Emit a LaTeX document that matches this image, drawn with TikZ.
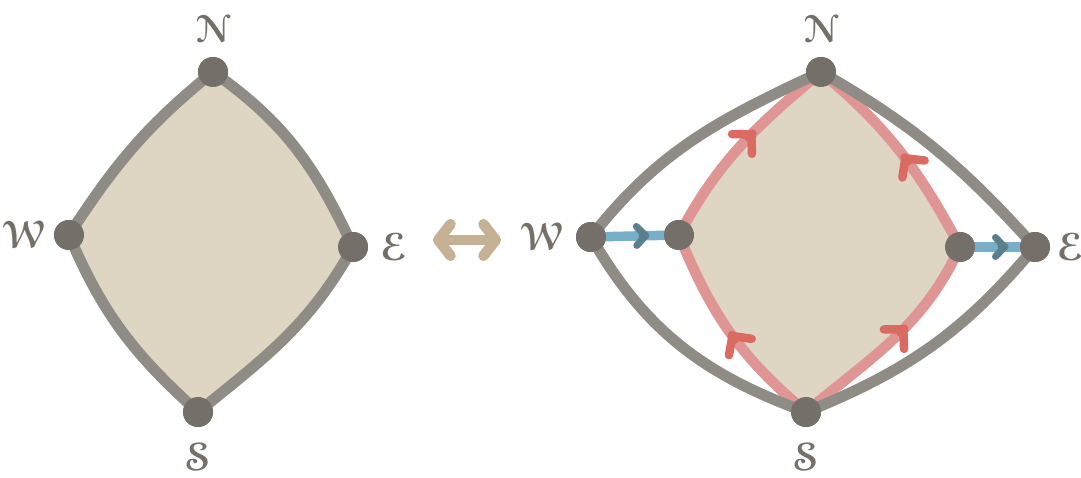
\documentclass[tikz,border=0pt]{standalone}
\usepackage{amsmath}
\usepackage{amsfonts}
\usepackage[mathcal]{eucal}
\usepackage{tikz}
\usetikzlibrary{positioning,arrows.meta}
\definecolor{edgegray}{HTML}{8F8C86}
\definecolor{dotgray}{HTML}{746F69}
\definecolor{facetan}{HTML}{DFD5C3}
\definecolor{swaptan}{HTML}{C5B294}
\definecolor{pathpink}{HTML}{E09595}
\definecolor{tipred}{HTML}{D96B63}
\definecolor{flowblue}{HTML}{78AEC8}
\definecolor{tipblue}{HTML}{5A808D}

\begin{document}
\begin{tikzpicture}[
  dot/.style={circle,fill=dotgray,minimum size=0.6cm,inner sep=0pt},
  lbl/.style={text=dotgray,font=\fontsize{22}{26}\selectfont},
  edge/.style={draw=edgegray,line width=0.22cm},
  face/.style={fill=facetan},
  redpath/.style={draw=pathpink,line width=0.21cm},
  bluepath/.style={draw=flowblue,line width=0.19cm},
  redtip/.style={draw=tipred,line width=0.17cm,line cap=round,
    -{Straight Barb[length=0.27cm,width=0.56cm,round]}},
  bluetip/.style={draw=tipblue,line width=0.14cm,line cap=round,
    -{Straight Barb[length=0.18cm,width=0.38cm,round]}},
  swap/.style={draw=swaptan,line width=0.21cm,line cap=round,
    {Straight Barb[length=7pt,width=18pt,round]}-{Straight Barb[length=7pt,width=18pt,round]}}
]
  \useasboundingbox (0,0) rectangle (21.62,9.56);

  % left square
  \node[dot] (lN) at (4.26,8.12) {};
  \node[dot] (lW) at (1.38,4.86) {};
  \node[dot] (lE) at (7.06,4.62) {};
  \node[dot] (lS) at (3.96,1.32) {};
  \fill[face] (lW.center) to[out=57,in=219] (lN.center) to[out=-35,in=115] (lE.center)
    to[out=-119,in=39] (lS.center) to[out=138,in=-67] (lW.center) -- cycle;
  \draw[edge] (lW.center) to[out=57,in=219] (lN.center);
  \draw[edge] (lN.center) to[out=-35,in=115] (lE.center);
  \draw[edge] (lE.center) to[out=-119,in=39] (lS.center);
  \draw[edge] (lS.center) to[out=138,in=-67] (lW.center);
  \foreach \p in {lN,lW,lE,lS} \node[dot] at (\p) {};
  \node[lbl,above=0.16cm of lN] (lNt) {$\boldsymbol{\mathcal{N}}$};
  \node[lbl,left=0.04cm of lW] (lWt) {$\boldsymbol{\mathcal{W}}$};
  \node[lbl,right=0.12cm of lE] (lEt) {$\boldsymbol{\mathcal{E}}$};
  \node[lbl,below=0.2cm of lS] (lSt) {$\boldsymbol{\mathcal{S}}$};

  % swap arrow
  \coordinate (swapL) at (8.66,4.76);
  \coordinate (swapR) at (10.02,4.76);
  \draw[swap] (swapL) -- (swapR);

  % right square
  \node[dot] (rN) at (16.42,8.12) {};
  \node[dot] (rW) at (11.82,4.82) {};
  \node[dot] (rE) at (20.70,4.62) {};
  \node[dot] (rS) at (16.12,1.32) {};
  \node[dot] (rWi) at (13.58,4.86) {};
  \node[dot] (rEi) at (19.20,4.62) {};
  \fill[face] (rS.center) to[out=140,in=-68] (rWi.center) to[out=62,in=220] (rN.center)
    to[out=-40,in=118] (rEi.center) to[out=-115,in=40] (rS.center) -- cycle;
  \draw[redpath] (rS.center) to[out=140,in=-68]
    coordinate[pos=0.485] (swA) coordinate[pos=0.5] (swB) (rWi.center);
  \draw[redpath] (rWi.center) to[out=62,in=220]
    coordinate[pos=0.585] (nwA) coordinate[pos=0.6] (nwB) (rN.center);
  \draw[redpath] (rS.center) to[out=40,in=245]
    coordinate[pos=0.565] (seA) coordinate[pos=0.58] (seB) (rEi.center);
  \draw[redpath] (rEi.center) to[out=118,in=-40]
    coordinate[pos=0.465] (neA) coordinate[pos=0.48] (neB) (rN.center);
  \foreach \a/\b in {swA/swB,nwA/nwB,seA/seB,neA/neB} \draw[redtip] (\a) -- (\b);
  \draw[edge] (rW.center) to[out=52,in=205] (rN.center);
  \draw[edge] (rN.center) to[out=-30,in=132] (rE.center);
  \draw[edge] (rE.center) to[out=-130,in=22] (rS.center);
  \draw[edge] (rS.center) to[out=160,in=-60] (rW.center);
  \draw[bluepath] (rW.center) -- coordinate[pos=0.62] (wA) coordinate[pos=0.66] (wB) (rWi.center);
  \draw[bluepath] (rEi.center) -- coordinate[pos=0.6] (eA) coordinate[pos=0.64] (eB) (rE.center);
  \draw[bluetip] (wA) -- (wB);
  \draw[bluetip] (eA) -- (eB);
  \foreach \p in {rN,rW,rE,rS,rWi,rEi} \node[dot] at (\p) {};
  \node[lbl,above=0.16cm of rN] (rNt) {$\boldsymbol{\mathcal{N}}$};
  \node[lbl,left=0.12cm of rW] (rWt) {$\boldsymbol{\mathcal{W}}$};
  \node[lbl,right=0.01cm of rE] (rEt) {$\boldsymbol{\mathcal{E}}$};
  \node[lbl,below=0.2cm of rS] (rSt) {$\boldsymbol{\mathcal{S}}$};
\end{tikzpicture}
\end{document}
